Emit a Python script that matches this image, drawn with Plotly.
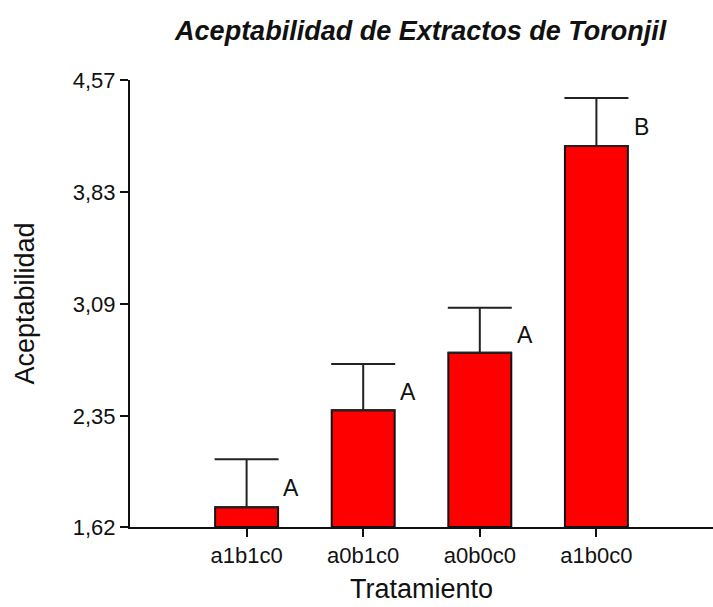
import plotly.graph_objects as go

categories = ["a1b1c0", "a0b1c0", "a0b0c0", "a1b0c0"]
values = [1.75, 2.39, 2.77, 4.135]
errors = [0.317, 0.305, 0.297, 0.317]
letters = ["A", "A", "A", "B"]
y_ticks = [1.62, 2.35, 3.09, 3.83, 4.57]
y_tick_text = ["1,62", "2,35", "3,09", "3,83", "4,57"]

FONT = "Liberation Sans, Arial"
base = 1.62
fig = go.Figure()
fig.add_trace(go.Bar(
    x=categories,
    y=[v - base for v in values],
    base=base,
    width=0.54,
    marker=dict(color="#ff0000", line=dict(color="#111111", width=2)),
    error_y=dict(type="data", array=errors, arrayminus=[0]*len(errors),
                 symmetric=False, color="#222222", thickness=2, width=32),
    showlegend=False,
))

for i, (v, e, l) in enumerate(zip(values, errors, letters)):
    fig.add_annotation(x=i + 0.385, y=v + e * 0.4, text=l, showarrow=False,
                       xref="x", yref="y",
                       font=dict(family=FONT, size=23, color="#111111"))

fig.update_layout(
    width=713, height=607,
    margin=dict(l=130, r=0, t=80, b=80),
    plot_bgcolor="white", paper_bgcolor="white",
    title=dict(text="<b><i>Aceptabilidad de Extractos de Toronjil</i></b>",
               x=0.59, xanchor="center", y=0.95, yanchor="middle",
               font=dict(family=FONT, size=27, color="#111111")),
    font=dict(family=FONT, color="#111111"),
)
fig.update_xaxes(
    range=[-1, 4.0], showline=True, linecolor="#111111", linewidth=2,
    ticks="outside", ticklen=8, tickwidth=2, tickcolor="#111111",
    tickfont=dict(size=22), showgrid=False, zeroline=False,
    title=dict(text="Tratamiento", font=dict(size=27), standoff=12),
)
fig.update_yaxes(
    range=[1.62, 4.57], showline=True, linecolor="#111111", linewidth=2,
    ticks="outside", ticklen=8, tickwidth=2, tickcolor="#111111",
    tickvals=y_ticks, ticktext=y_tick_text, tickfont=dict(size=22),
    showgrid=False, zeroline=False,
    title=dict(text="Aceptabilidad", font=dict(size=27), standoff=30),
)

fig.write_html("out.html", config={"displayModeBar": False},
               post_script="document.body.style.margin='0';document.body.style.overflow='hidden';")
